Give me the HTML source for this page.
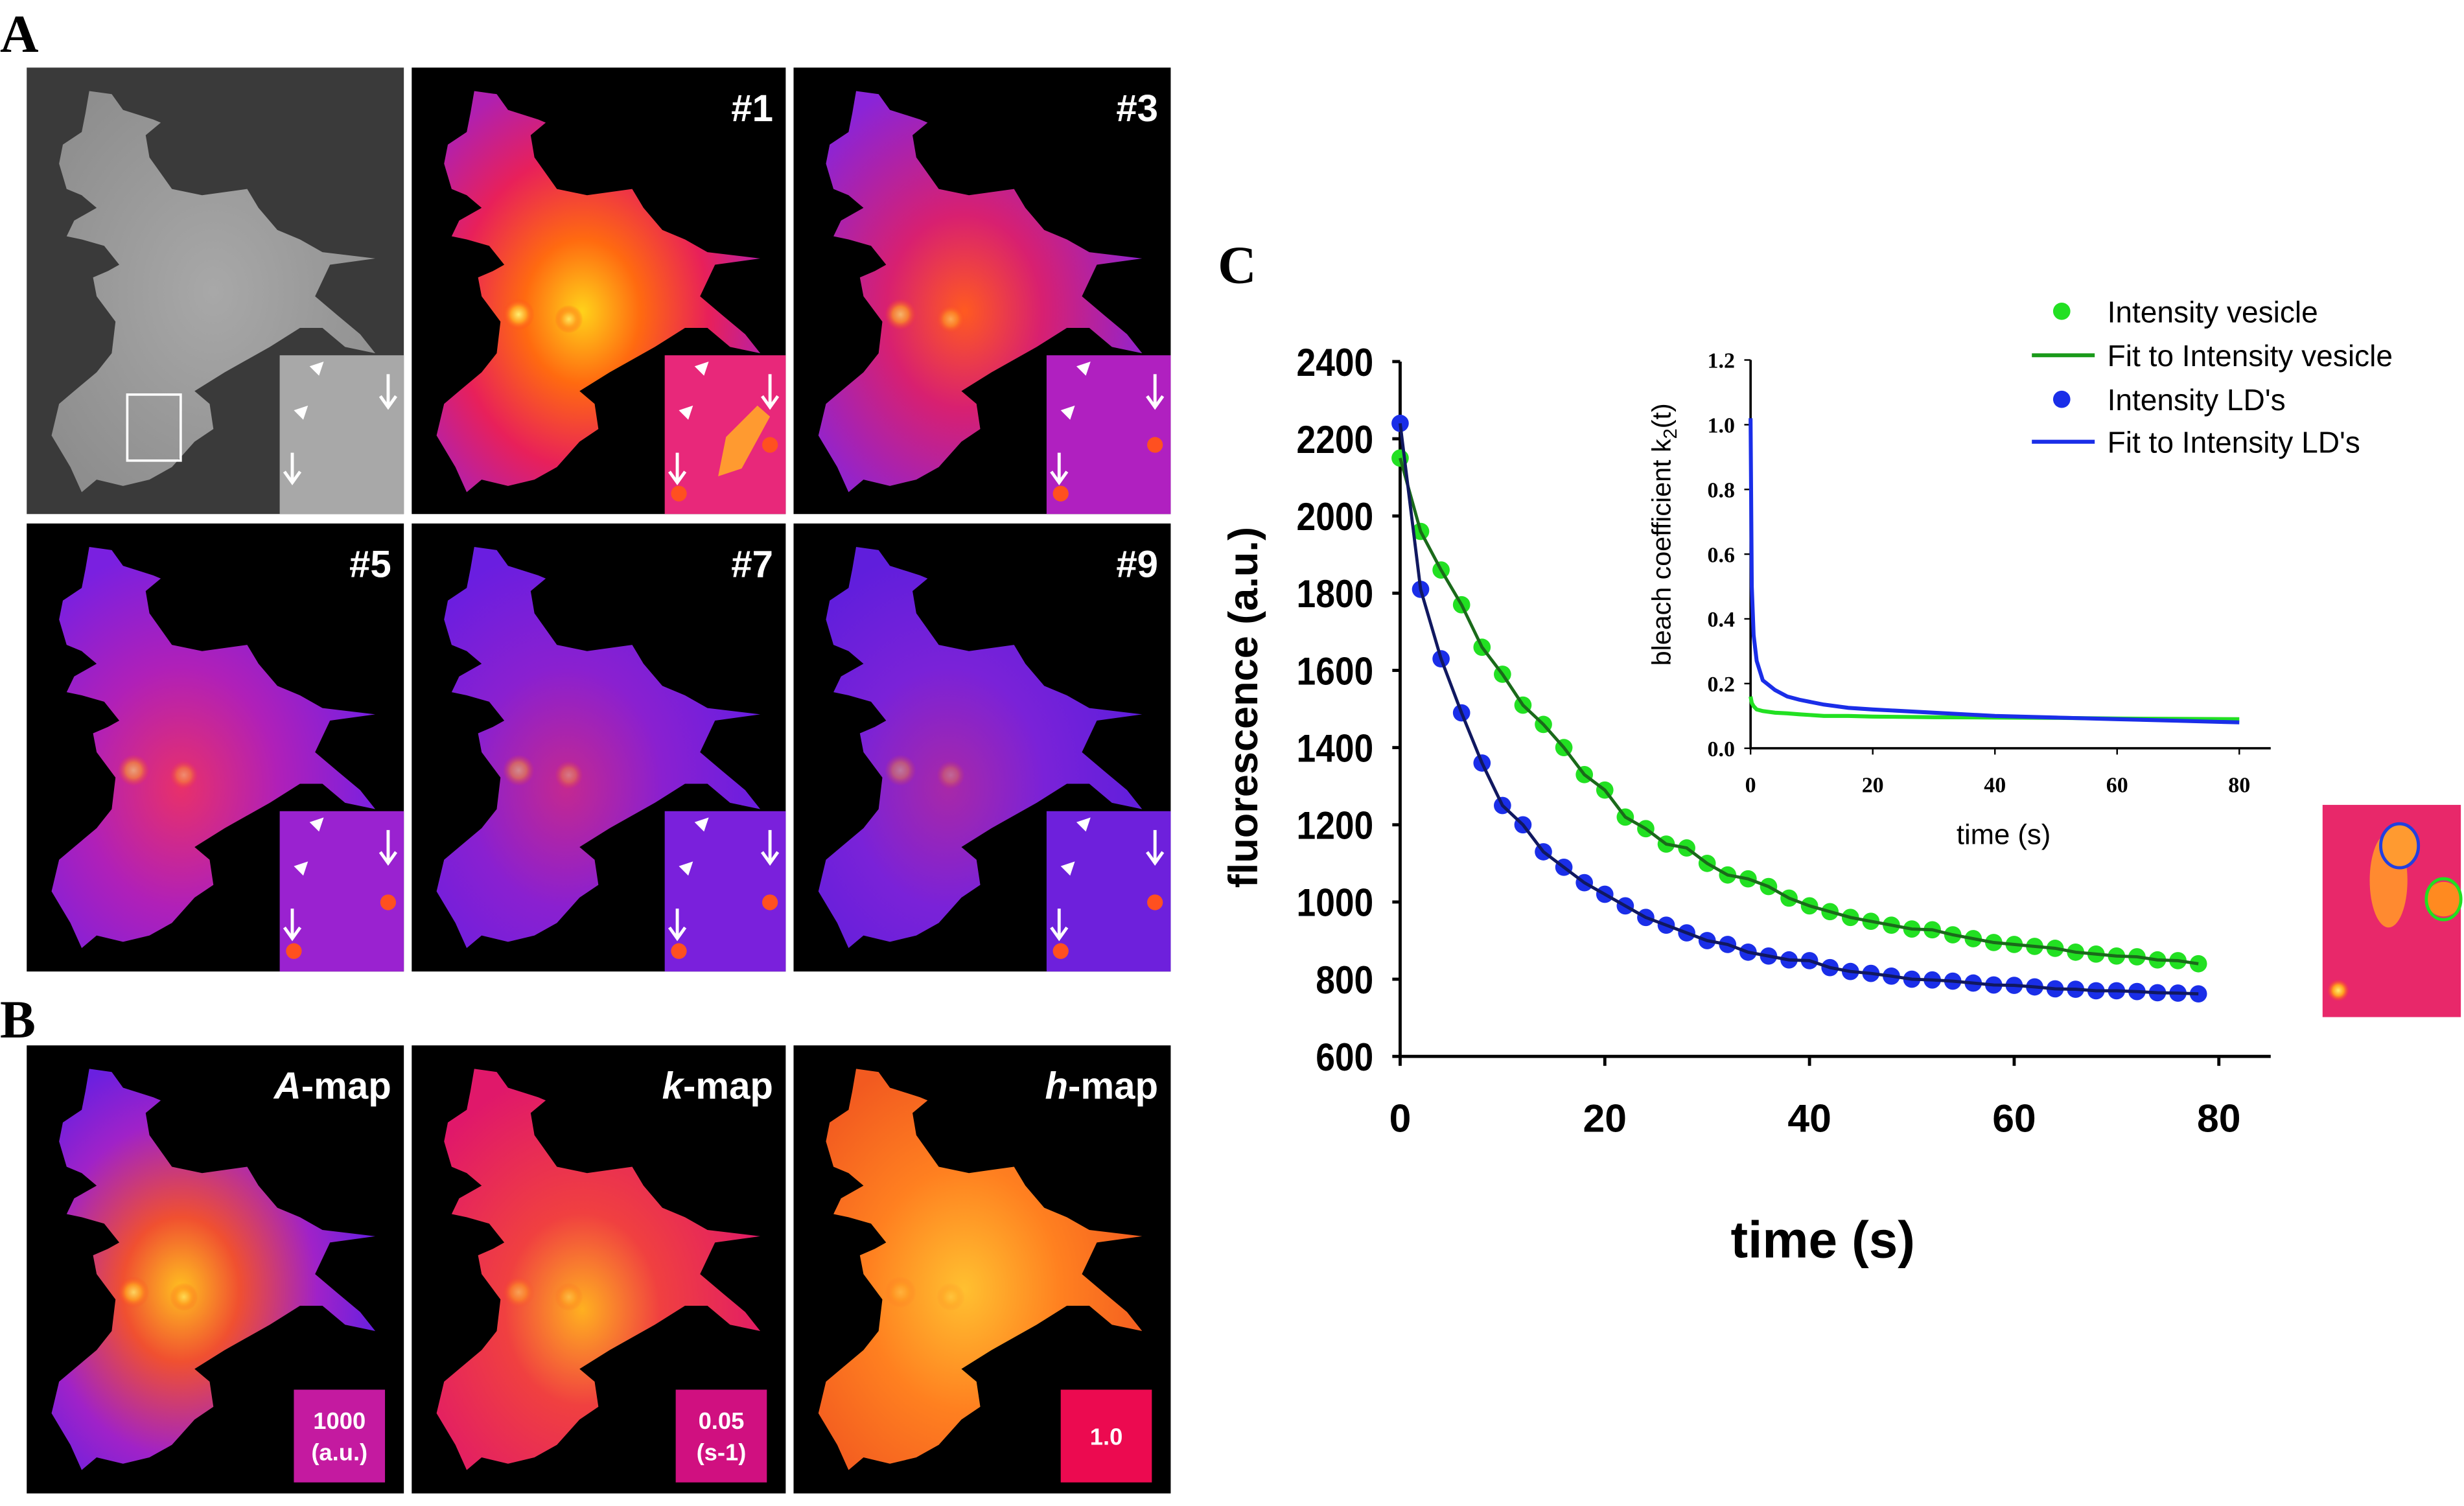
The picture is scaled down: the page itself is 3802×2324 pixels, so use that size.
<!DOCTYPE html>
<html><head><meta charset="utf-8"><style>
html,body{margin:0;padding:0;background:#fff;}
svg{display:block;}
text{font-family:"Liberation Sans",sans-serif;}
text.serif{font-family:"Liberation Serif",serif;}
</style></head><body>
<svg id="fig" width="3802" height="2324" viewBox="0 0 1568 958" preserveAspectRatio="none" xmlns="http://www.w3.org/2000/svg">
<defs>
<radialGradient id="g1" cx="0.45" cy="0.55" r="0.6"><stop offset="0" stop-color="#ffd21a"/><stop offset="0.3" stop-color="#ff6a10"/><stop offset="0.65" stop-color="#e8205a"/><stop offset="1" stop-color="#b020b0"/></radialGradient>
<radialGradient id="g3" cx="0.45" cy="0.55" r="0.6"><stop offset="0" stop-color="#ff5a20"/><stop offset="0.4" stop-color="#d82070"/><stop offset="1" stop-color="#8a24d8"/></radialGradient>
<radialGradient id="g5" cx="0.4" cy="0.6" r="0.6"><stop offset="0" stop-color="#e8306a"/><stop offset="0.5" stop-color="#b020b8"/><stop offset="1" stop-color="#7a20e0"/></radialGradient>
<radialGradient id="g7" cx="0.4" cy="0.6" r="0.6"><stop offset="0" stop-color="#c42890"/><stop offset="0.5" stop-color="#8a20d0"/><stop offset="1" stop-color="#6a1ee0"/></radialGradient>
<radialGradient id="g9" cx="0.4" cy="0.6" r="0.6"><stop offset="0" stop-color="#a828a8"/><stop offset="0.5" stop-color="#7a22d8"/><stop offset="1" stop-color="#601edc"/></radialGradient>
<radialGradient id="gA" cx="0.4" cy="0.55" r="0.6"><stop offset="0" stop-color="#ffc020"/><stop offset="0.3" stop-color="#f05030"/><stop offset="0.7" stop-color="#a022c8"/><stop offset="1" stop-color="#6a20e0"/></radialGradient>
<radialGradient id="gK" cx="0.45" cy="0.6" r="0.6"><stop offset="0" stop-color="#ffb020"/><stop offset="0.4" stop-color="#f04040"/><stop offset="1" stop-color="#e0186a"/></radialGradient>
<radialGradient id="gH" cx="0.45" cy="0.55" r="0.6"><stop offset="0" stop-color="#ffc030"/><stop offset="0.5" stop-color="#ff8020"/><stop offset="1" stop-color="#f25a20"/></radialGradient>
<radialGradient id="gG" cx="0.5" cy="0.5" r="0.7"><stop offset="0" stop-color="#a8a8a8"/><stop offset="1" stop-color="#8a8a8a"/></radialGradient>
<radialGradient id="spot" cx="0.5" cy="0.5" r="0.5"><stop offset="0" stop-color="#fff070"/><stop offset="0.5" stop-color="#ffa020"/><stop offset="1" stop-color="#ff4020" stop-opacity="0"/></radialGradient>
<path id="cell" d=""/>
</defs>
<g id="panels"></g>
<g id="chart"></g>
</svg>
<script>
// ---- chart data ----
var times = [0,2,4,6,8,10,12,14,16,18,20,22,24,26,28,30,32,34,36,38,40,42,44,46,48,50,52,54,56,58,60,62,64,66,68,70,72,74,76,78];
var vesicle = [2150,1960,1860,1770,1660,1590,1510,1460,1400,1330,1290,1220,1190,1150,1140,1100,1070,1060,1040,1010,990,975,960,950,940,930,928,915,905,895,890,885,880,870,865,860,858,850,848,840];
var lds = [2240,1810,1630,1490,1360,1250,1200,1130,1090,1050,1020,990,960,940,920,900,890,870,860,850,848,830,820,815,808,800,798,795,790,785,784,780,775,774,770,770,768,765,764,762];
var yTicks = [600,800,1000,1200,1400,1600,1800,2000,2200,2400];
var xTicks = [0,20,40,60,80];
var insetT = [0,0.2,0.5,1,2,4,6,8,12,16,20,30,40,50,60,70,80];
var insetBlue = [1.02,0.5,0.35,0.27,0.21,0.18,0.16,0.15,0.135,0.125,0.12,0.11,0.1,0.095,0.09,0.085,0.08];
var insetGreen = [0.16,0.14,0.13,0.12,0.115,0.11,0.108,0.105,0.1,0.1,0.098,0.096,0.095,0.094,0.092,0.091,0.09];
var insetYTicks = ["0.0","0.2","0.4","0.6","0.8","1.0","1.2"];
var insetXTicks = [0,20,40,60,80];
var legendLabels = ["Intensity vesicle","Fit to Intensity vesicle","Intensity LD's","Fit to Intensity LD's"];

var NS="http://www.w3.org/2000/svg";
function mk(tag, attrs, parent, txt){var e=document.createElementNS(NS,tag);for(var k in attrs)e.setAttribute(k,attrs[k]);if(txt!==undefined)e.textContent=txt;parent.appendChild(e);return e;}

// ---- cell shape ----
var raw=[[120,145],[150,150],[165,175],[205,190],[215,195],[195,215],[200,250],[230,300],[270,310],[330,300],[345,330],[370,365],[400,380],[430,400],[500,410],[440,420],[420,470],[450,500],[480,530],[500,560],[460,550],[430,520],[400,520],[360,550],[300,590],[260,620],[280,640],[285,680],[260,700],[230,740],[200,760],[165,770],[130,760],[110,780],[95,740],[70,690],[80,640],[100,620],[130,590],[150,560],[155,510],[130,470],[125,440],[145,430],[160,420],[140,390],[110,380],[90,375],[100,350],[130,330],[110,310],[90,300],[80,260],[85,230],[110,210],[115,180]];
var d="M"+raw.map(function(p){return ((p[0]-37)*0.479).toFixed(1)+","+((p[1]-108)*0.402).toFixed(1);}).join(" L")+" Z";
document.getElementById('cell').setAttribute('d',d);

var P=document.getElementById('panels');
mk('text',{x:0,y:33,'class':'serif','font-weight':'bold','font-size':34},P,'A');
mk('text',{x:0,y:660,'class':'serif','font-weight':'bold','font-size':34},P,'B');
mk('text',{x:775,y:180,'class':'serif','font-weight':'bold','font-size':34},P,'C');

var tiles=[
 {x:17,y:43,w:240,h:284,bg:'#3a3a3a',fill:'url(#gG)',lab:'',inset:'#a8a8a8',name:'brightfield-image',spot:0},
 {x:262,y:43,w:238,h:284,bg:'#000',fill:'url(#g1)',lab:'#1',inset:'#e8287a',name:'frame-1-image',spot:1},
 {x:505,y:43,w:240,h:284,bg:'#000',fill:'url(#g3)',lab:'#3',inset:'#b020c0',name:'frame-3-image',spot:0.7},
 {x:17,y:333,w:240,h:285,bg:'#000',fill:'url(#g5)',lab:'#5',inset:'#9a22d0',name:'frame-5-image',spot:0.6},
 {x:262,y:333,w:238,h:285,bg:'#000',fill:'url(#g7)',lab:'#7',inset:'#7a20dc',name:'frame-7-image',spot:0.5},
 {x:505,y:333,w:240,h:285,bg:'#000',fill:'url(#g9)',lab:'#9',inset:'#6e20dc',name:'frame-9-image',spot:0.4},
 {x:17,y:665,w:240,h:285,bg:'#000',fill:'url(#gA)',lab:'A',scale:['1000','(a.u.)'],sc:'#c41aa0',name:'a-map-image',spot:0.8},
 {x:262,y:665,w:238,h:285,bg:'#000',fill:'url(#gK)',lab:'k',scale:['0.05','(s-1)'],sc:'#d01080',name:'k-map-image',spot:0.5},
 {x:505,y:665,w:240,h:285,bg:'#000',fill:'url(#gH)',lab:'h',scale:['1.0'],sc:'#ec0a50',name:'h-map-image',spot:0.3}
];
tiles.forEach(function(t){
  var g=mk('g',{transform:'translate('+t.x+','+t.y+')'},P);
  
  
  mk('rect',{x:0,y:0,width:t.w,height:t.h,fill:t.bg},g);
  mk('use',{href:'#cell',fill:t.fill},g);
  if(t.spot){mk('circle',{cx:68,cy:157,r:10,fill:'url(#spot)',opacity:t.spot},g);mk('circle',{cx:100,cy:160,r:9,fill:'url(#spot)',opacity:t.spot*0.8},g);}
  if(t.lab){
    var tx=mk('text',{x:t.w-8,y:34,'text-anchor':'end',fill:'#fff','font-weight':'bold','font-size':24},g);
    
    if(t.scale){mk('tspan',{'font-style':'italic'},tx,t.lab);mk('tspan',{},tx,'-map');}
    else tx.textContent=t.lab;
  }
  if(t.inset){
    mk('rect',{x:161,y:183,width:t.w-161,height:t.h-183,fill:t.inset},g);
    if(t.name!=='brightfield-image'){mk('circle',{cx:t.w-10,cy:t.h-44,r:5,fill:'#ff5020'},g);mk('circle',{cx:170,cy:t.h-13,r:5,fill:'#ff5020'},g);}
    if(t.name==='frame-1-image'){mk('path',{d:'M200,235 L220,215 L228,222 L210,255 L195,260 Z',fill:'#ff9a30'},g);}
    mk('path',{d:'M180,190 l9,-3 l-3,9 z',fill:'#fff'},g);
    mk('path',{d:'M170,218 l9,-3 l-3,9 z',fill:'#fff'},g);
    mk('path',{d:'M'+(t.w-10)+',195 v20 M'+(t.w-15)+',209 l5,7 l5,-7 M169,245 v18 M164,257 l5,7 l5,-7',stroke:'#fff','stroke-width':2,fill:'none'},g);
  }
  if(t.name==='brightfield-image'){mk('rect',{x:64,y:208,width:34,height:42,fill:'none',stroke:'#fff','stroke-width':1.5},g);}
  if(t.scale){
    var bx=t.w-70,by=219;
    mk('rect',{x:bx,y:by,width:58,height:59,fill:t.sc},g);
    if(t.scale.length===2){
      mk('text',{x:bx+29,y:by+25,'text-anchor':'middle',fill:'#fff','font-weight':'bold','font-size':15},g,t.scale[0]);
      mk('text',{x:bx+29,y:by+45,'text-anchor':'middle',fill:'#fff','font-weight':'bold','font-size':15},g,t.scale[1]);
    } else mk('text',{x:bx+29,y:by+35,'text-anchor':'middle',fill:'#fff','font-weight':'bold','font-size':15},g,t.scale[0]);
  }
});
// ROI image
var roi=mk('g',{},P);


mk('rect',{x:1478,y:512,width:88,height:135,fill:'#e8286a'},roi);
mk('ellipse',{cx:1520,cy:560,rx:12,ry:30,fill:'#ff8a30'},roi);
mk('circle',{cx:1555,cy:572,r:11,fill:'#ff8a20'},roi);
mk('circle',{cx:1488,cy:630,r:7,fill:'url(#spot)'},roi);
mk('ellipse',{cx:1527,cy:538,rx:12,ry:14,fill:'#ff9a30',stroke:'#2040e0','stroke-width':2},roi);
mk('ellipse',{cx:1555,cy:572,rx:11,ry:13,fill:'none',stroke:'#20e020','stroke-width':2},roi);

// ---- main chart ----
var C=document.getElementById('chart');
function X(t){return 891+t*(1412-891)/80;}
function Y(v){return 672-(v-600)*(672-230)/1800;}
var ax=mk('path',{d:'M891,230 V672 H1445',stroke:'#000','stroke-width':2,fill:'none'},C);


yTicks.forEach(function(v){
  mk('line',{x1:886,x2:891,y1:Y(v),y2:Y(v),stroke:'#000','stroke-width':2},C);
  var t=mk('text',{x:874,y:Y(v)+9,'text-anchor':'end','font-size':25,'font-weight':'bold',transform:'translate(874,0) scale(0.88,1) translate(-874,0)'},C,v);
  
});
xTicks.forEach(function(v){
  mk('line',{x1:X(v),x2:X(v),y1:672,y2:678,stroke:'#000','stroke-width':2},C);
  var t=mk('text',{x:X(v),y:720,'text-anchor':'middle','font-size':25,'font-weight':'bold'},C,v);
  
});
var yt=mk('text',{x:800,y:450,'text-anchor':'middle','font-size':26,'font-weight':'bold',transform:'rotate(-90 800 450)'},C,'fluorescence (a.u.)');

var xt=mk('text',{x:1160,y:800,'text-anchor':'middle','font-size':33,'font-weight':'bold'},C,'time (s)');


function series(arr,col,lineCol,name){
  arr.forEach(function(v,i){
    var c=mk('circle',{cx:X(times[i]),cy:Y(v),r:5.5,fill:col},C);
    
  });
  var pl=mk('polyline',{points:arr.map(function(v,i){return X(times[i])+','+Y(v);}).join(' '),fill:'none',stroke:lineCol,'stroke-width':2},C);
  
}
series(vesicle,'#22e022','#1a6a1a','vesicle');
series(lds,'#1a2ee8','#101860','lds');

// ---- inset ----
function IX(t){return 1114+t*(1425-1114)/80;}
function IY(v){return 476-v*(476-229)/1.2;}
var iax=mk('path',{d:'M1114,229 V476 H1445',stroke:'#000','stroke-width':1.5,fill:'none'},C);


insetYTicks.forEach(function(s){
  var v=parseFloat(s);
  mk('line',{x1:1110,x2:1114,y1:IY(v),y2:IY(v),stroke:'#000'},C);
  var t=mk('text',{x:1104,y:IY(v)+5,'text-anchor':'end','font-size':14,'font-weight':'bold','class':'serif'},C,s);
  
});
insetXTicks.forEach(function(v){
  mk('line',{x1:IX(v),x2:IX(v),y1:476,y2:480,stroke:'#000'},C);
  var t=mk('text',{x:IX(v),y:504,'text-anchor':'middle','font-size':14,'font-weight':'bold','class':'serif'},C,v);
  
});
var iyt=mk('text',{x:1063,y:340,'text-anchor':'middle','font-size':17,transform:'rotate(-90 1063 340)'},C);

iyt.appendChild(document.createTextNode('bleach coefficient k'));
mk('tspan',{'font-size':12,dy:4},iyt,'2');
mk('tspan',{dy:-4},iyt,'(t)');
var ixt=mk('text',{x:1275,y:537,'text-anchor':'middle','font-size':18},C,'time (s)');

var ig=mk('polyline',{points:insetT.map(function(t,i){return IX(t)+','+IY(insetGreen[i]);}).join(' '),fill:'none',stroke:'#22e022','stroke-width':2.5},C);

var ib=mk('polyline',{points:insetT.map(function(t,i){return IX(t)+','+IY(insetBlue[i]);}).join(' '),fill:'none',stroke:'#1a2ee8','stroke-width':2.5},C);


// ---- legend ----
var lg=mk('g',{},C);


var ly=[198,226,254,281];
legendLabels.forEach(function(s,i){
  var col=i<2?'#22e022':'#1a2ee8';
  if(i%2===0)mk('circle',{cx:1312,cy:ly[i],r:5.5,fill:col},lg);
  else mk('line',{x1:1293,x2:1333,y1:ly[i],y2:ly[i],stroke:i===1?'#1a9a1a':'#1a2ee8','stroke-width':2.5},lg);
  var t=mk('text',{x:1341,y:ly[i]+7,'font-size':19},lg,s);
  
});
</script>
</body></html>
